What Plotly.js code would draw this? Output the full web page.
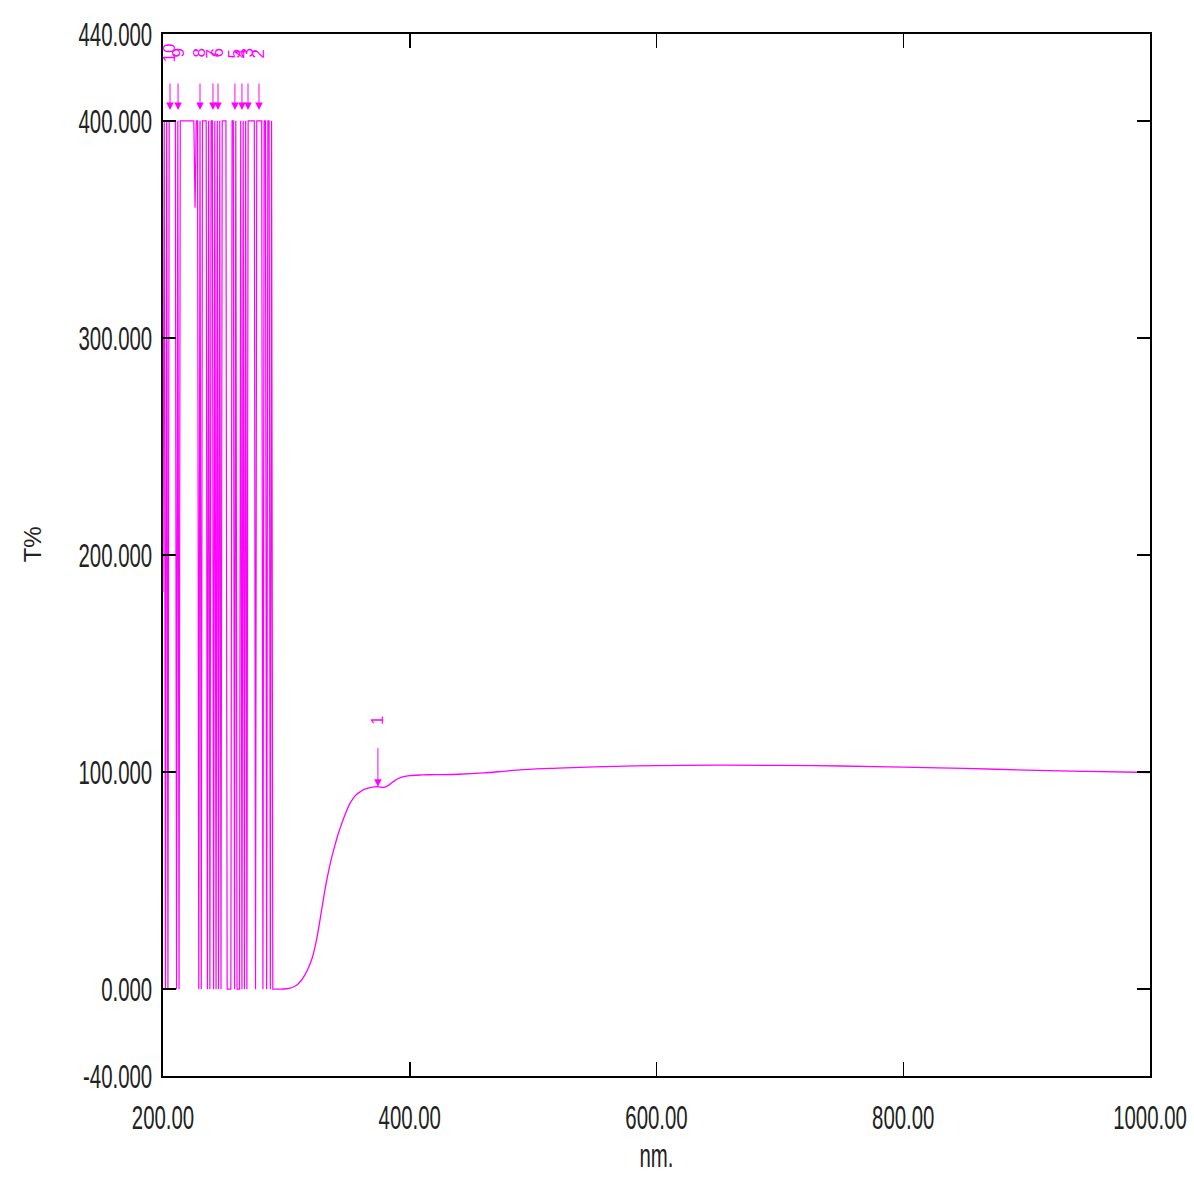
<!DOCTYPE html>
<html lang="en">
  <head>
    <meta charset="UTF-8" />
    <title>T% spectrum</title>
    <script src="https://cdn.plot.ly/plotly-3.0.1.min.js"></script>
    <style>
      body { margin: 0; background: #fff; }
      #myDiv { width: 1194px; height: 1182px; }
    </style>
  </head>
  <body>
    <div id="myDiv"></div>
    <script>
      // saturated, noisy region (1 nm steps)
      var noiseNm = [];
      for (var n = 200; n <= 290; n++) noiseNm.push(n);
      var noiseT = [
        183, 400, 0, 400, 0, 400, 400, 400, 400, 400,
        400, 0, 400, 0, 400, 400, 400, 400, 400, 400,
        400, 400, 400, 400, 400, 400, 360, 400, 400, 0,
        400, 0, 400, 400, 400, 400, 0, 400, 0, 400,
        400, 0, 400, 0, 400, 0, 400, 0, 400, 400,
        400, 400, 0, 0, 0, 0, 400, 400, 0, 400,
        0, 0, 0, 400, 0, 400, 0, 400, 0, 400,
        400, 400, 400, 400, 400, 0, 400, 400, 400, 400,
        400, 0, 400, 400, 0, 400, 400, 0, 400, 0,
        0
      ];

      // smooth part of the curve
      var curveNm = [290, 295, 300, 303, 306, 309, 312, 315, 318, 321, 324, 327, 330, 333, 336,
        339, 342, 345, 348, 351, 354, 357, 360, 363, 366, 369, 372, 374, 376, 378, 380, 383,
        386, 390, 395, 400, 410, 420, 440, 460, 480, 500, 520, 550, 600, 650, 700, 750, 800,
        850, 900, 950, 1000];
      var curveT = [0, 0, 0.2, 0.5, 1.1, 2.2, 4, 6.6, 10, 14.5, 21.5, 31, 41.5, 51, 59,
        65.5, 71.5, 76.5, 81, 85, 87.8, 89.8, 91, 92, 92.6, 93, 93.2, 93.3, 93.1, 92.9, 93.1, 94,
        95.3, 96.8, 97.9, 98.4, 98.7, 98.8, 99, 99.6, 100.6, 101.4, 101.8, 102.4, 103, 103.2, 103.1, 102.8, 102.3,
        101.7, 100.9, 100.3, 99.8];

      // picked peaks
      var peakNo = ["1", "2", "3", "4", "5", "6", "7", "8", "9", "10"];
      var peakNm = [374.2, 277.8, 268.9, 264, 258.3, 244.6, 240.5, 230, 212.2, 205.7];
      var peakT = [93.3, 405, 405, 405, 405, 405, 405, 405, 405, 405];
      var labelT = [124, 431, 431, 431, 431, 431, 431, 431, 431, 431];

      var yTicks = [-40, 0, 100, 200, 300, 400, 440];
      var yTickText = ["-40.000", "0.000", "100.000", "200.000", "300.000", "400.000", "440.000"];
      var xTicks = [200, 400, 600, 800, 1000];
      var xTickText = ["200.00", "400.00", "600.00", "800.00", "1000.00"];

      var pink = "rgb(255,0,255)";
      var font = "Liberation Sans, Arial, sans-serif";

      var data = [
        { x: noiseNm, y: noiseT, mode: "lines", line: { color: pink, width: 1.2 }, hoverinfo: "x+y" },
        { x: curveNm, y: curveT, mode: "lines", line: { color: pink, width: 1.3, shape: "spline", smoothing: 1 }, hoverinfo: "x+y" },
      ];

      var annotations = [];
      peakNm.forEach(function (x, i) {
        annotations.push({
          x: x, y: peakT[i], text: "", showarrow: true,
          ax: 0, ay: i === 0 ? -40 : -28,
          arrowhead: 2, arrowsize: 1.5, arrowwidth: 1, arrowcolor: pink,
        });
        annotations.push({
          x: x, y: labelT[i], text: peakNo[i], showarrow: false, textangle: -90,
          font: { family: font, size: 17, color: pink },
        });
      });
      annotations.push({
        xref: "paper", yref: "paper", x: -0.132, y: 0.51, xanchor: "center", yanchor: "middle",
        text: "T%", showarrow: false, textangle: -90,
        font: { family: font, size: 24, color: "#222" },
      });

      var layout = {
        width: 1194,
        height: 1182,
        margin: { l: 163, r: 44, t: 34, b: 106 },
        paper_bgcolor: "#fff",
        plot_bgcolor: "#fff",
        showlegend: false,
        font: { family: font, size: 34, color: "#222" },
        xaxis: {
          range: [200, 1000],
          tickvals: xTicks,
          ticktext: xTickText,
          ticks: "inside",
          ticklen: 14,
          tickwidth: 1.5,
          tickcolor: "#000",
          ticklabelstandoff: 10,
          ticklabeloverflow: "allow",
          showgrid: false,
          zeroline: false,
          showline: true,
          linecolor: "#000",
          linewidth: 2,
          mirror: "ticks",
          title: { text: "nm.", font: { family: font, size: 34 }, standoff: 0 },
        },
        yaxis: {
          range: [-40, 440],
          tickvals: yTicks,
          ticktext: yTickText,
          ticks: "inside",
          ticklen: 13,
          tickwidth: 1.5,
          tickcolor: "#000",
          ticklabelstandoff: 2,
          ticklabeloverflow: "allow",
          showgrid: false,
          zeroline: false,
          showline: true,
          linecolor: "#000",
          linewidth: 2,
          mirror: "ticks",
        },
        annotations: annotations,
      };

      // the original labels are tall and narrow: squeeze them sideways about their anchor
      function squeeze(sel, sx) {
        document.querySelectorAll(sel).forEach(function (t) {
          var x = parseFloat(t.getAttribute("x")) || 0;
          var y = parseFloat(t.getAttribute("y")) || 0;
          var tr = t.getAttribute("transform") || "";
          t.setAttribute("transform", tr + " translate(" + x + "," + y + ") scale(" + sx + ",1) translate(" + -x + "," + -y + ")");
        });
      }

      Plotly.newPlot("myDiv", data, layout, { displayModeBar: false, staticPlot: true }).then(function () {
        squeeze("#myDiv .xtick text, #myDiv .ytick text, #myDiv .g-xtitle text", 0.6);
      });
    </script>
  </body>
</html>
